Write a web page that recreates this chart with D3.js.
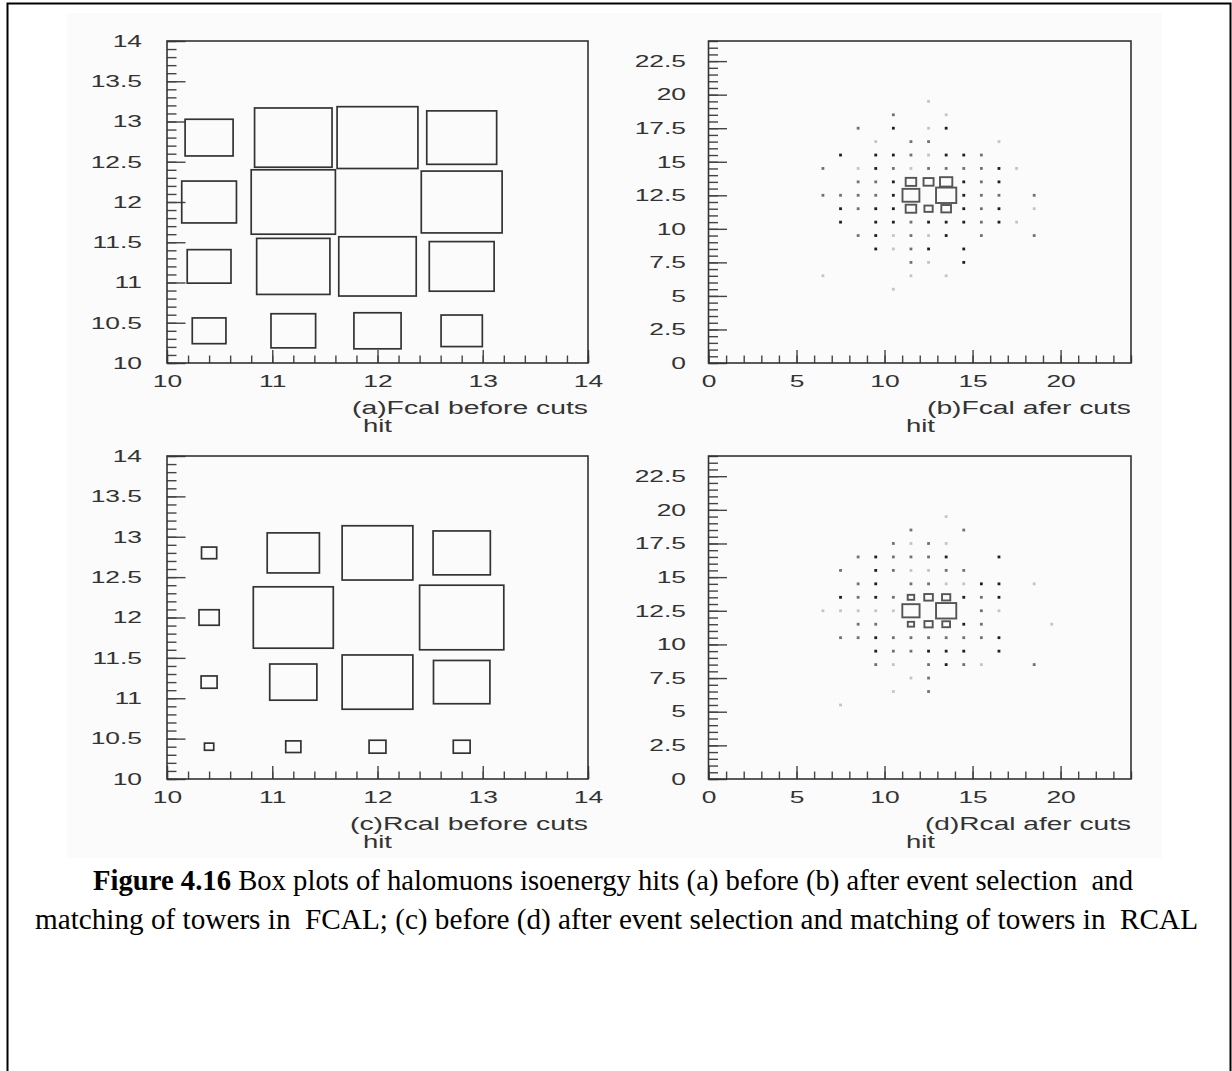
<!DOCTYPE html>
<html>
<head>
<meta charset="utf-8">
<script src="https://cdn.jsdelivr.net/npm/d3@7"></script>
<style>
body { margin: 0; background: #fff; }
svg { display: block; }
</style>
</head>
<body>
<svg id="fig" width="1232" height="1071"></svg>
<script>
// Tower cells of the "before cuts" plots (bin centres, 0.8 wide)
const towerCentres = [10.4, 11.2, 12.0, 12.8]

// box side in % of the bin, rows from y=10.4 up to y=12.8, cols x=10.4..12.8
const fcalBefore = [
    [40, 53, 56, 49],
    [52, 87, 92, 77],
    [65, 100, 0, 96],
    [57, 92, 96, 83]
]
const rcalBefore = [
    [11, 18, 20, 20],
    [19, 56, 84, 67],
    [24, 95, 0, 100],
    [18, 62, 84, 68]
]

// "after cuts" plots: [x, y, content]; 1-3 are single hits (drawn as dots)
const fcalAfter = [
    [12.5, 19.5, 1],
    [10.5, 18.5, 2], [13.5, 18.5, 1],
    [8.5, 17.5, 2], [10.5, 17.5, 3], [12.5, 17.5, 1], [13.5, 17.5, 3],
    [9.5, 16.5, 1], [11.5, 16.5, 2], [12.5, 16.5, 2], [16.5, 16.5, 1],
    [7.5, 15.5, 3], [9.5, 15.5, 3], [10.5, 15.5, 3], [11.5, 15.5, 2], [12.5, 15.5, 1], [13.5, 15.5, 3], [14.5, 15.5, 3], [15.5, 15.5, 2],
    [6.5, 14.5, 2], [8.5, 14.5, 1], [9.5, 14.5, 3], [10.5, 14.5, 2], [11.5, 14.5, 1], [12.5, 14.5, 2], [13.5, 14.5, 2], [14.5, 14.5, 2], [15.5, 14.5, 2], [16.5, 14.5, 3], [17.5, 14.5, 1],
    [8.5, 13.5, 2], [9.5, 13.5, 2], [10.5, 13.5, 3], [11.5, 13.5, 60], [12.5, 13.5, 57], [13.5, 13.5, 70], [14.5, 13.5, 3], [15.5, 13.5, 2], [16.5, 13.5, 3],
    [6.5, 12.5, 2], [7.5, 12.5, 2], [8.5, 12.5, 2], [9.5, 12.5, 2], [10.5, 12.5, 3], [11.5, 12.5, 96], [13.5, 12.5, 115], [14.5, 12.5, 3], [15.5, 12.5, 2], [16.5, 12.5, 2], [18.5, 12.5, 2],
    [7.5, 11.5, 3], [8.5, 11.5, 2], [9.5, 11.5, 3], [10.5, 11.5, 3], [11.5, 11.5, 60], [12.5, 11.5, 47], [13.5, 11.5, 55], [14.5, 11.5, 3], [15.5, 11.5, 2], [16.5, 11.5, 3], [18.5, 11.5, 1],
    [7.5, 10.5, 3], [9.5, 10.5, 3], [10.5, 10.5, 3], [11.5, 10.5, 2], [12.5, 10.5, 3], [13.5, 10.5, 3], [14.5, 10.5, 3], [15.5, 10.5, 2], [16.5, 10.5, 3], [17.5, 10.5, 1],
    [8.5, 9.5, 2], [9.5, 9.5, 3], [10.5, 9.5, 1], [11.5, 9.5, 2], [12.5, 9.5, 1], [13.5, 9.5, 3], [15.5, 9.5, 2], [18.5, 9.5, 2],
    [9.5, 8.5, 3], [10.5, 8.5, 1], [11.5, 8.5, 2], [12.5, 8.5, 3], [14.5, 8.5, 3],
    [11.5, 7.5, 2], [12.5, 7.5, 1], [14.5, 7.5, 3],
    [6.5, 6.5, 1], [11.5, 6.5, 1], [13.5, 6.5, 1],
    [10.5, 5.5, 1]
]
const rcalAfter = [
    [13.5, 19.5, 1],
    [11.5, 18.5, 2], [14.5, 18.5, 2],
    [10.5, 17.5, 2], [11.5, 17.5, 1], [12.5, 17.5, 2], [13.5, 17.5, 1],
    [8.5, 16.5, 2], [9.5, 16.5, 3], [10.5, 16.5, 2], [11.5, 16.5, 2], [12.5, 16.5, 2], [13.5, 16.5, 3], [16.5, 16.5, 3],
    [7.5, 15.5, 2], [9.5, 15.5, 3], [10.5, 15.5, 2], [11.5, 15.5, 1], [12.5, 15.5, 1], [13.5, 15.5, 2], [14.5, 15.5, 2],
    [8.5, 14.5, 2], [9.5, 14.5, 3], [11.5, 14.5, 2], [12.5, 14.5, 2], [13.5, 14.5, 1], [14.5, 14.5, 1], [15.5, 14.5, 3], [16.5, 14.5, 3], [18.5, 14.5, 1],
    [7.5, 13.5, 3], [8.5, 13.5, 2], [9.5, 13.5, 3], [10.5, 13.5, 2], [11.5, 13.5, 37], [12.5, 13.5, 49], [13.5, 13.5, 47], [14.5, 13.5, 3], [15.5, 13.5, 2], [16.5, 13.5, 3],
    [6.5, 12.5, 1], [7.5, 12.5, 1], [8.5, 12.5, 1], [9.5, 12.5, 1], [10.5, 12.5, 1], [11.5, 12.5, 98], [13.5, 12.5, 115], [15.5, 12.5, 2], [16.5, 12.5, 1],
    [8.5, 11.5, 2], [9.5, 11.5, 2], [11.5, 11.5, 36], [12.5, 11.5, 47], [13.5, 11.5, 44], [14.5, 11.5, 3], [15.5, 11.5, 2], [19.5, 11.5, 1],
    [7.5, 10.5, 2], [8.5, 10.5, 2], [9.5, 10.5, 3], [10.5, 10.5, 2], [11.5, 10.5, 2], [12.5, 10.5, 2], [13.5, 10.5, 2], [14.5, 10.5, 2], [15.5, 10.5, 2], [16.5, 10.5, 3],
    [9.5, 9.5, 3], [10.5, 9.5, 2], [11.5, 9.5, 2], [12.5, 9.5, 3], [13.5, 9.5, 3], [14.5, 9.5, 3], [16.5, 9.5, 3],
    [9.5, 8.5, 2], [10.5, 8.5, 1], [12.5, 8.5, 2], [13.5, 8.5, 3], [14.5, 8.5, 2], [15.5, 8.5, 1], [18.5, 8.5, 2],
    [11.5, 7.5, 1], [12.5, 7.5, 2],
    [10.5, 6.5, 1], [12.5, 6.5, 2],
    [7.5, 5.5, 1]
]

// tick labels
const beforeXTicks = [10, 11, 12, 13, 14]
const beforeYTicks = [10, 10.5, 11, 11.5, 12, 12.5, 13, 13.5, 14]
const afterXTicks = [0, 5, 10, 15, 20]
const afterYTicks = [0, 2.5, 5, 7.5, 10, 12.5, 15, 17.5, 20, 22.5]

const titles = ["(a)Fcal before cuts", "(b)Fcal afer cuts", "(c)Rcal before cuts", "(d)Rcal afer cuts"]
const captionLine1 = ["Figure 4.16", " Box plots of halomuons isoenergy hits (a) before (b) after event selection  and"]
const captionLine2 = "matching of towers in  FCAL; (c) before (d) after event selection and matching of towers in  RCAL"


const svg = d3.select("#fig")
const ink = "#333"
const stretch = 1.6   // the PAW font is much wider than Arial

// frame of the page + the faint scanned-picture background
svg.append("rect")
    .attr("x", 67).attr("y", 13).attr("width", 1095).attr("height", 845)
    .attr("fill", "#fbfbfb")
svg.append("rect")
    .attr("x", 7.5).attr("y", 3.5).attr("width", 1223).attr("height", 1100)
    .attr("fill", "none").attr("stroke", "#000").attr("stroke-width", 2)

const panels = [
    {title: titles[0], kind: "before", grid: fcalBefore, left: 167, right: 588, top: 41, bottom: 363, titleW: 236},
    {title: titles[1], kind: "after", cells: fcalAfter, left: 708.5, right: 1131, top: 41, bottom: 363, titleW: 204},
    {title: titles[2], kind: "before", grid: rcalBefore, left: 167, right: 588, top: 456, bottom: 779, titleW: 238},
    {title: titles[3], kind: "after", cells: rcalAfter, left: 708.5, right: 1131, top: 456, bottom: 779, titleW: 206}
]

function stretchLabels(g, anchorX) {
    g.selectAll(".tick text")
        .attr("fill", ink)
        .attr("font-family", "Liberation Sans, Arial, sans-serif")
        .attr("font-size", 16.5)
        .attr("transform", "scale(" + stretch + ",1)")
        .attr("x", function() { return anchorX / stretch })
}

function drawPanel(p) {
    const before = p.kind == "before"
    const xDom = before ? [10, 14] : [0, 24]
    const yDom = before ? [10, 14] : [0, 24]

    const x = d3.scaleLinear().domain(xDom).range([p.left, p.right])
    const y = d3.scaleLinear().domain(yDom).range([p.bottom, p.top])

    const g = svg.append("g")

    // minor ticks
    const xMinor = before ? d3.range(10, 14.001, 0.2) : d3.range(0, 24.001, 1)
    const yMinor = before ? d3.range(10, 14.001, 0.1) : d3.range(0, 24.001, 0.5)

    const xMin = g.append("g")
        .attr("transform", "translate(0," + p.bottom + ")")
        .call(d3.axisBottom(x).tickValues(xMinor).tickSize(-7.5).tickFormat(""))
    const yMin = g.append("g")
        .attr("transform", "translate(" + p.left + ",0)")
        .call(d3.axisLeft(y).tickValues(yMinor).tickSize(-9.5).tickFormat(""))

    // major ticks + labels
    const xAx = g.append("g")
        .attr("transform", "translate(0," + p.bottom + ")")
        .call(d3.axisBottom(x)
            .tickValues(before ? beforeXTicks : afterXTicks)
            .tickSize(-13).tickPadding(8)
            .tickFormat(d3.format("")))
    const yAx = g.append("g")
        .attr("transform", "translate(" + p.left + ",0)")
        .call(d3.axisLeft(y)
            .tickValues(before ? beforeYTicks : afterYTicks)
            .tickSize(-18.5)
            .tickFormat(d3.format("")))

    for (const a of [xMin, yMin, xAx, yAx]) {
        a.select(".domain").remove()
        a.selectAll(".tick line").attr("stroke", "#444").attr("stroke-width", 1.4)
    }
    stretchLabels(xAx, 0)
    xAx.selectAll(".tick text").attr("y", 12).attr("dy", "0.71em")
    stretchLabels(yAx, before ? -25 : -22.5)

    // frame
    g.append("rect")
        .attr("x", p.left).attr("y", p.top)
        .attr("width", p.right - p.left).attr("height", p.bottom - p.top)
        .attr("fill", "none").attr("stroke", ink).attr("stroke-width", 1.6)

    // cells
    var cells = []
    var binW
    if (before) {
        binW = 0.8
        p.grid.forEach((row, r) => row.forEach((v, c) => {
            if (v > 0) cells.push([towerCentres[c], towerCentres[r], v])
        }))
    } else {
        binW = 1
        cells = p.cells
    }
    const side = d3.scaleLinear().domain([0, 100]).range([0, binW])
    const dotShade = d3.scaleLinear().domain([1, 3]).range(["#c4c4c4", "#1e1e1e"])

    const boxes = cells.filter(d => d[2] >= 10)
    const dots = cells.filter(d => d[2] < 10)

    g.selectAll(".box").data(boxes).enter().append("rect")
        .attr("class", "box")
        .attr("x", d => x(d[0] - side(d[2]) / 2))
        .attr("y", d => y(d[1] + side(d[2]) / 2))
        .attr("width", d => x(d[0] + side(d[2]) / 2) - x(d[0] - side(d[2]) / 2))
        .attr("height", d => y(d[1] - side(d[2]) / 2) - y(d[1] + side(d[2]) / 2))
        .attr("fill", "none")
        .attr("stroke", before ? "#333" : "#555")
        .attr("stroke-width", before ? 1.7 : 1.9)

    g.selectAll(".dot").data(dots).enter().append("rect")
        .attr("class", "dot")
        .attr("x", d => x(d[0]) - 1.4)
        .attr("y", d => y(d[1]) - 1.4)
        .attr("width", 2.8).attr("height", 2.8)
        .attr("fill", d => dotShade(d[2]))

    // title + axis name
    g.append("text")
        .attr("x", p.right).attr("y", p.bottom + 51)
        .attr("text-anchor", "end")
        .attr("font-family", "Liberation Sans, Arial, sans-serif")
        .attr("font-size", 18)
        .attr("fill", ink)
        .attr("textLength", p.titleW)
        .attr("lengthAdjust", "spacingAndGlyphs")
        .text(p.title)
    g.append("text")
        .attr("x", p.right - 225).attr("y", p.bottom + 69)
        .attr("font-family", "Liberation Sans, Arial, sans-serif")
        .attr("font-size", 18)
        .attr("fill", ink)
        .attr("textLength", 29)
        .attr("lengthAdjust", "spacingAndGlyphs")
        .text("hit")
}

panels.forEach(drawPanel)


// Caption //
const cap = svg.append("g")
    .attr("font-family", "Liberation Serif, Times New Roman, serif")
    .attr("font-size", 29)
    .attr("fill", "#000")

const l1 = cap.append("text").attr("x", 93).attr("y", 890)
    .attr("xml:space", "preserve")
    .attr("textLength", 1040).attr("lengthAdjust", "spacingAndGlyphs")
l1.append("tspan").attr("font-weight", "bold").text(captionLine1[0])
l1.append("tspan").text(captionLine1[1])

cap.append("text").attr("x", 35).attr("y", 929)
    .attr("xml:space", "preserve")
    .attr("textLength", 1163).attr("lengthAdjust", "spacingAndGlyphs")
    .text(captionLine2)
</script>
</body>
</html>
